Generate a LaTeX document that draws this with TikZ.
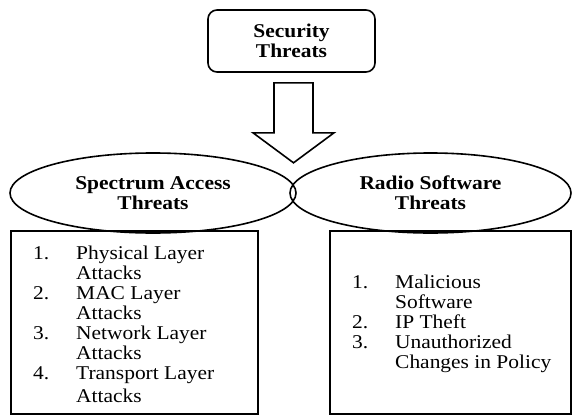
\documentclass[tikz,border=0pt]{standalone}
\usepackage{fontspec}
\setmainfont{Liberation Serif}[FakeStretch=1.1]
\usetikzlibrary{positioning,shapes.geometric}

\newcommand{\lnum}[1]{\makebox[43pt][l]{#1}}
\newcommand{\lind}{\hspace*{43pt}}

\begin{document}
\begin{tikzpicture}
  [x=1pt, y=1pt, line join=miter,
   font=\fontsize{19.5}{20}\selectfont,
   topbox/.style={draw, line width=1.6pt, rounded corners=9pt, minimum width=167pt,
     minimum height=62pt, align=center, font=\fontsize{19.5}{20}\selectfont\bfseries},
   oval/.style={draw, ellipse, line width=1.6pt, minimum height=80pt, inner sep=0pt,
     align=center, font=\fontsize{19.5}{20}\selectfont\bfseries},
   listbox/.style={draw, line width=2pt, minimum height=183pt, anchor=north west},
   listtext/.style={align=left, anchor=north west, inner sep=0pt},
   hollowarrow/.style={draw, line width=1.6pt, fill=white}]
  \useasboundingbox (0,0) rectangle (573,-415);

  \node [topbox] (sec) at (291.5,-41) {Security\\Threats};

  \node [oval, minimum width=286pt] (spec) at (153,-193) {Spectrum Access\\Threats};
  \node [oval, minimum width=281pt] (radio) at (430.5,-193) {Radio Software\\Threats};

  % block arrow from the top box down to the two ovals
  \draw [hollowarrow] ([xshift=2pt, yshift=-10pt]sec.south) ++(-19.5,0) -- ++(39,0) -- ++(0,-50)
    -- ++(21,0) -- ++(-40.5,-30) -- ++(-40.5,30) -- ++(21,0) -- cycle;

  \node [listbox, minimum width=247pt] (sbox) at (10,-230) {};
  \node [listbox, minimum width=241pt] (rbox) at (329,-230) {};

  \node [listtext] (slist) at ([xshift=23pt, yshift=-16pt]sbox.north west)
    {\lnum{1.}Physical Layer\\ \lind Attacks\\
     \lnum{2.}MAC Layer\\ \lind Attacks\\
     \lnum{3.}Network Layer\\ \lind Attacks\\
     \lnum{4.}Transport Layer\\[3pt] \lind Attacks};
  \node [listtext] (rlist) at ([xshift=23pt, yshift=-45pt]rbox.north west)
    {\lnum{1.}Malicious\\ \lind Software\\
     \lnum{2.}IP Theft\\
     \lnum{3.}Unauthorized\\ \lind Changes in Policy};
\end{tikzpicture}
\end{document}
